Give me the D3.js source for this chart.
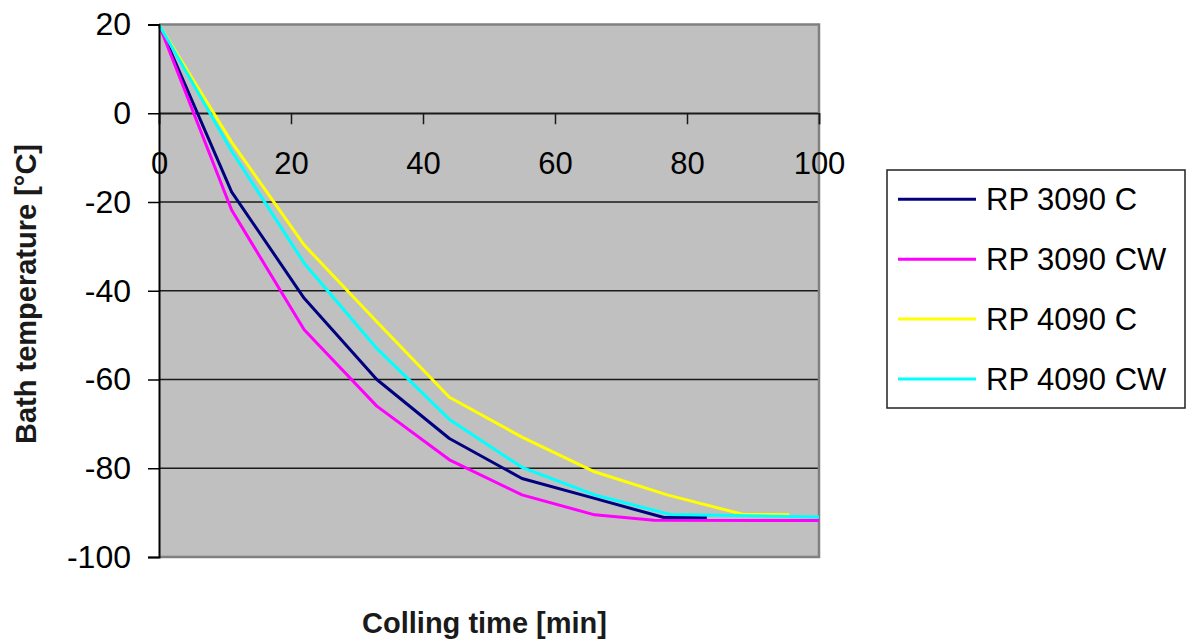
<!DOCTYPE html>
<html>
<head>
<meta charset="utf-8">
<script src="https://cdn.jsdelivr.net/npm/d3@7"></script>
<style>
  html, body { margin: 0; padding: 0; background: #fff; }
  svg { display: block; font-family: "Liberation Sans", Arial, sans-serif; }
</style>
</head>
<body>
<svg id="chart" width="1196" height="642"></svg>
<script>
// ---- data ----
const seriesNames = ["RP 3090 C", "RP 3090 CW", "RP 4090 C", "RP 4090 CW"];
const seriesColors = ["#000080", "#ff00ff", "#ffff00", "#00ffff"];

const rp3090cTime = [0, 11, 22, 33, 44, 55, 66, 76.5, 83];
const rp3090cTemp = [20, -17.7, -41.7, -60, -73.3, -82.3, -86.8, -91.1, -91.1];

const rp3090cwTime = [0, 11, 22, 33, 44, 55, 66, 75, 100];
const rp3090cwTemp = [20, -21.8, -48.8, -66, -78.1, -86, -90.5, -91.7, -91.8];

const rp4090cTime = [0, 11, 22, 33, 44, 55, 66, 77, 88.5, 95.5];
const rp4090cTemp = [20, -6.5, -29.7, -47, -64, -73, -80.8, -86, -90.4, -90.5];

const rp4090cwTime = [0, 11, 22, 33, 44, 55, 66, 77.4, 100];
const rp4090cwTemp = [20, -8.5, -33.8, -53, -69, -79.8, -86, -90.4, -91];

const xTicks = [0, 20, 40, 60, 80, 100];
const yTicks = [20, 0, -20, -40, -60, -80, -100];
const xTitle = "Colling time [min]";
const yTitle = "Bath temperature [°C]";

const seriesTimes = [rp3090cTime, rp3090cwTime, rp4090cTime, rp4090cwTime];
const seriesTemps = [rp3090cTemp, rp3090cwTemp, rp4090cTemp, rp4090cwTemp];
const series = seriesNames.map((name, i) => ({
  name, color: seriesColors[i],
  points: seriesTimes[i].map((t, j) => [t, seriesTemps[i][j]])
}));

// ---- layout ----
const svg = d3.select("#chart");
const plot = { left: 159, right: 819, top: 24.5, bottom: 557 };
const x = d3.scaleLinear().domain([0, 100]).range([plot.left, plot.right]);
const y = d3.scaleLinear().domain([-100, 20]).range([plot.bottom, plot.top]);
const fmt = d => String(d);

// plot background
svg.append("rect")
  .attr("x", plot.left).attr("y", plot.top)
  .attr("width", plot.right - plot.left).attr("height", plot.bottom - plot.top)
  .attr("fill", "#c0c0c0");

// gridlines
svg.append("g").selectAll("line")
  .data(yTicks.filter(v => v > -100 && v < 20))
  .join("line")
  .attr("x1", plot.left).attr("x2", plot.right)
  .attr("y1", d => y(d)).attr("y2", d => y(d))
  .attr("stroke", "#1a1a1a").attr("stroke-width", 1.5);

// plot border (top, right, bottom)
svg.append("path")
  .attr("d", `M${plot.left},${plot.top}H${plot.right}V${plot.bottom}H${plot.left}`)
  .attr("fill", "none").attr("stroke", "#808080").attr("stroke-width", 2.5);

// x axis at y = 0
const xAxis = svg.append("g")
  .attr("transform", `translate(0,${y(0)})`)
  .call(d3.axisBottom(x).tickValues(xTicks).tickSize(11).tickPadding(28).tickFormat(fmt));
xAxis.select(".domain").attr("stroke", "#1a1a1a").attr("stroke-width", 1.5);
xAxis.selectAll(".tick line").attr("stroke", "#1a1a1a").attr("stroke-width", 1.5);
xAxis.selectAll(".tick text").attr("font-size", 31).attr("fill", "#000")
  .attr("font-family", "'Liberation Sans', Arial, sans-serif");

// lines
const line = d3.line().x(d => x(d[0])).y(d => y(d[1]));
svg.append("g").selectAll("path")
  .data(series)
  .join("path")
  .attr("d", d => line(d.points))
  .attr("fill", "none")
  .attr("stroke", d => d.color)
  .attr("stroke-width", 3)
  .attr("stroke-linejoin", "round");

// y axis
const yAxis = svg.append("g")
  .attr("transform", `translate(${plot.left},0)`)
  .call(d3.axisLeft(y).tickValues(yTicks).tickSize(11).tickPadding(17).tickFormat(fmt));
yAxis.select(".domain").attr("stroke", "#000").attr("stroke-width", 2);
yAxis.selectAll(".tick line").attr("stroke", "#000").attr("stroke-width", 1.5);
yAxis.selectAll(".tick text").attr("font-size", 32).attr("fill", "#000")
  .attr("font-family", "'Liberation Sans', Arial, sans-serif");

// axis titles
svg.append("text")
  .attr("x", 484.5).attr("y", 633)
  .attr("text-anchor", "middle")
  .attr("font-size", 29).attr("font-weight", "bold").attr("fill", "#1a1a1a")
  .text(xTitle);

svg.append("text")
  .attr("transform", "translate(36,294) rotate(-90)")
  .attr("text-anchor", "middle")
  .attr("font-size", 29).attr("font-weight", "bold").attr("fill", "#1a1a1a")
  .text(yTitle);

// legend
const legend = svg.append("g");
legend.append("rect")
  .attr("x", 887).attr("y", 170).attr("width", 298).attr("height", 238)
  .attr("fill", "#fff").attr("stroke", "#222").attr("stroke-width", 1.5);
const items = legend.selectAll("g.item")
  .data(series)
  .join("g").attr("class", "item")
  .attr("transform", (d, i) => `translate(0,${199.3 + i * 59.9})`);
items.append("line")
  .attr("x1", 898).attr("x2", 976).attr("y1", 0).attr("y2", 0)
  .attr("stroke", d => d.color).attr("stroke-width", 3);
items.append("text")
  .attr("x", 986).attr("y", 11)
  .attr("font-size", 31).attr("fill", "#000")
  .text(d => d.name);
</script>
</body>
</html>
